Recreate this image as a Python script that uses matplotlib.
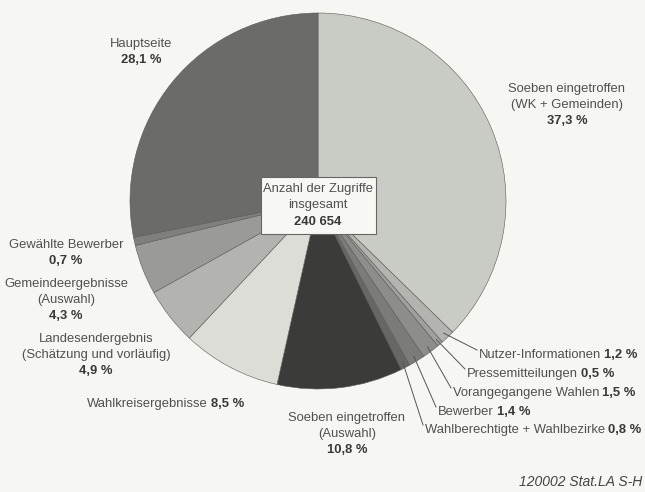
import numpy as np
import matplotlib.pyplot as plt
from matplotlib.patches import Rectangle

plt.rcParams['font.family'] = ['Liberation Sans', 'DejaVu Sans']

# Zugriffe nach Seitenbereich, im Uhrzeigersinn ab 12 Uhr
labels = ['Soeben eingetroffen\n(WK + Gemeinden)', 'Nutzer-Informationen', 'Pressemitteilungen',
          'Vorangegangene Wahlen', 'Bewerber', 'Wahlberechtigte + Wahlbezirke',
          'Soeben eingetroffen\n(Auswahl)', 'Wahlkreisergebnisse',
          'Landesendergebnis\n(Schätzung und vorläufig)', 'Gemeindeergebnisse\n(Auswahl)',
          'Gewählte Bewerber', 'Hauptseite']
shares = [37.3, 1.2, 0.5, 1.5, 1.4, 0.8, 10.8, 8.5, 4.9, 4.3, 0.7, 28.1]
total = '240 654'
colors = ['#c9cbc5', '#b3b4b0', '#a0a19d', '#8d8e8a', '#7b7c78', '#676864',
          '#3b3b39', '#dcddd7', '#b3b4af', '#9a9b97', '#7f807c', '#6b6b67']

bg = '#f6f6f2'
txt = '#505050'
txtb = '#383838'
fs = 9.4

fig = plt.figure(figsize=(6.45, 4.92), dpi=100, facecolor=bg)
ax = fig.add_axes([0, 0, 1, 1])

cx, cy, r = 318, 291, 188
wedges, _ = ax.pie(shares, colors=colors, startangle=90, counterclock=False,
                   center=(cx, cy), radius=r, frame=True,
                   wedgeprops=dict(edgecolor='#5a5a58', linewidth=0.4))
ax.set_xlim(0, 645)
ax.set_ylim(0, 492)
ax.set_aspect('equal')
ax.axis('off')

fig.canvas.draw()
rend = fig.canvas.get_renderer()


def pct(v):
    return f'{v:.1f} %'.replace('.', ',')


def inline(x, y, name, val):
    # normaler Name, danach der Wert fett in derselben Zeile
    t = ax.text(x, y, name, fontsize=fs, color=txt, ha='left', va='center')
    bb = t.get_window_extent(rend).transformed(ax.transData.inverted())
    ax.text(bb.x1 + 3, y, pct(val), fontsize=fs, color=txtb, fontweight='bold',
            ha='left', va='center')


def block(x, y, name, val, dy=16):
    lines = name.split('\n')
    for i, ln in enumerate(lines):
        ax.text(x, y - i * dy, ln, fontsize=fs, color=txt, ha='center', va='center')
    ax.text(x, y - len(lines) * dy, pct(val), fontsize=fs, color=txtb,
            fontweight='bold', ha='center', va='center')


H = 492
block(141, H - 44, labels[11], shares[11])
block(567, H - 89, labels[0], shares[0])
block(66, H - 245, labels[10], shares[10])
block(66, H - 284, labels[9], shares[9])
block(96, H - 339, labels[8], shares[8])
block(347, H - 418, labels[6], shares[6])
inline(87, H - 404, labels[7], shares[7])

# kleine Segmente rechts unten mit Führungslinien
small = [1, 2, 3, 4, 5]
text_pos = [(479, H - 355), (467, H - 374), (453, H - 393), (438, H - 412), (425, H - 430)]
cum = np.cumsum([0] + shares)
for idx, (tx, ty) in zip(small, text_pos):
    mid = 90 - 3.6 * (cum[idx] + shares[idx] / 2)
    a = np.deg2rad(mid)
    px, py = cx + r * 0.97 * np.cos(a), cy + r * 0.97 * np.sin(a)
    ax.plot([px, tx - 2], [py, ty + 5], color='#555555', lw=0.7)
    inline(tx, ty, labels[idx], shares[idx])

# Kasten in der Mitte
ax.add_patch(Rectangle((261, H - 234), 115, 57, facecolor='#f7f7f3',
                       edgecolor='#666666', lw=0.8, zorder=5))
ax.text(318, H - 189, 'Anzahl der Zugriffe', fontsize=fs, color=txt, ha='center',
        va='center', zorder=6)
ax.text(318, H - 205, 'insgesamt', fontsize=fs, color=txt, ha='center', va='center', zorder=6)
ax.text(318, H - 222, total, fontsize=fs, color=txtb, fontweight='bold', ha='center',
        va='center', zorder=6)

ax.text(642, H - 482, '120002 Stat.LA S-H', fontsize=10, color='#444444',
        style='italic', ha='right', va='center')

fig.savefig('out.png', dpi=100, facecolor=bg)
